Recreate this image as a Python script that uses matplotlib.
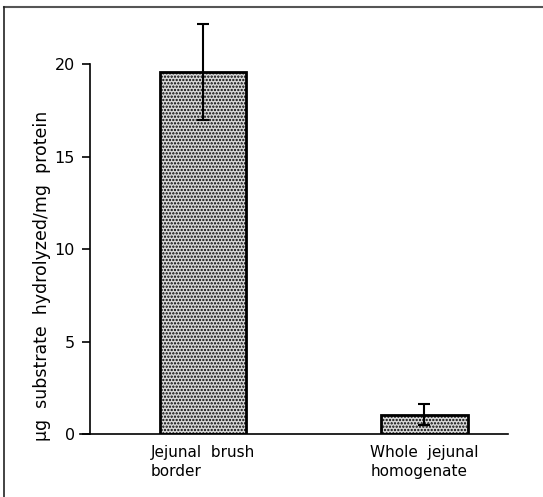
import matplotlib
matplotlib.use("Agg")
import matplotlib.pyplot as plt
from matplotlib.lines import Line2D

categories = ["Jejunal  brush\nborder", "Whole  jejunal\nhomogenate"]
values = [19.6, 1.05]
errors = [2.6, 0.55]
yticks = [0, 5, 10, 15, 20]
ylabel = "µg  substrate  hydrolyzed/mg  protein"

plt.rcParams['font.family'] = ['DejaVu Sans']
plt.rcParams['hatch.linewidth'] = 1.1

W, H = 543, 497
fig = plt.figure(figsize=(W/100, H/100), dpi=100)
ax = fig.add_axes([80/W, 1-434/H, (508-80)/W, (434-20)/H])

x = [0, 1]
ax.bar(x, values, width=0.39, facecolor='#d8d8d8', edgecolor='black',
       linewidth=2, hatch='.....', zorder=2)
ax.errorbar(x, values, yerr=errors, fmt='none', ecolor='black',
            elinewidth=1.5, capsize=4, capthick=1.5, zorder=3)

ax.set_xlim(-0.555, 1.377)
ax.set_ylim(0, 22.4)
for s in ['top', 'right']:
    ax.spines[s].set_visible(False)
ax.spines['left'].set_position(('data', -0.51))
ax.spines['left'].set_bounds(0, 20)
ax.spines['left'].set_linewidth(1.2)
ax.spines['bottom'].set_linewidth(1.2)
ax.set_yticks(yticks)
ax.set_yticklabels([str(t) for t in yticks], fontsize=11.5)
ax.tick_params(axis='y', direction='out', length=6, width=1.2, pad=5)
ax.set_xticks(x)
ax.set_xticklabels(categories, fontsize=11, linespacing=1.3, multialignment='left')
ax.tick_params(axis='x', length=0, pad=8)
ax.text((42-80)/428, (434-276)/414, ylabel, transform=ax.transAxes,
        rotation=90, ha='center', va='center', fontsize=12.5)

# figure frame (top and left edges)
fig.add_artist(Line2D([4/W, 1], [1-7/H, 1-7/H], transform=fig.transFigure,
                      color='#555555', linewidth=1.5))
fig.add_artist(Line2D([4/W, 4/W], [0, 1-7/H], transform=fig.transFigure,
                      color='#222222', linewidth=1.2))

fig.savefig("out.png", dpi=100)
